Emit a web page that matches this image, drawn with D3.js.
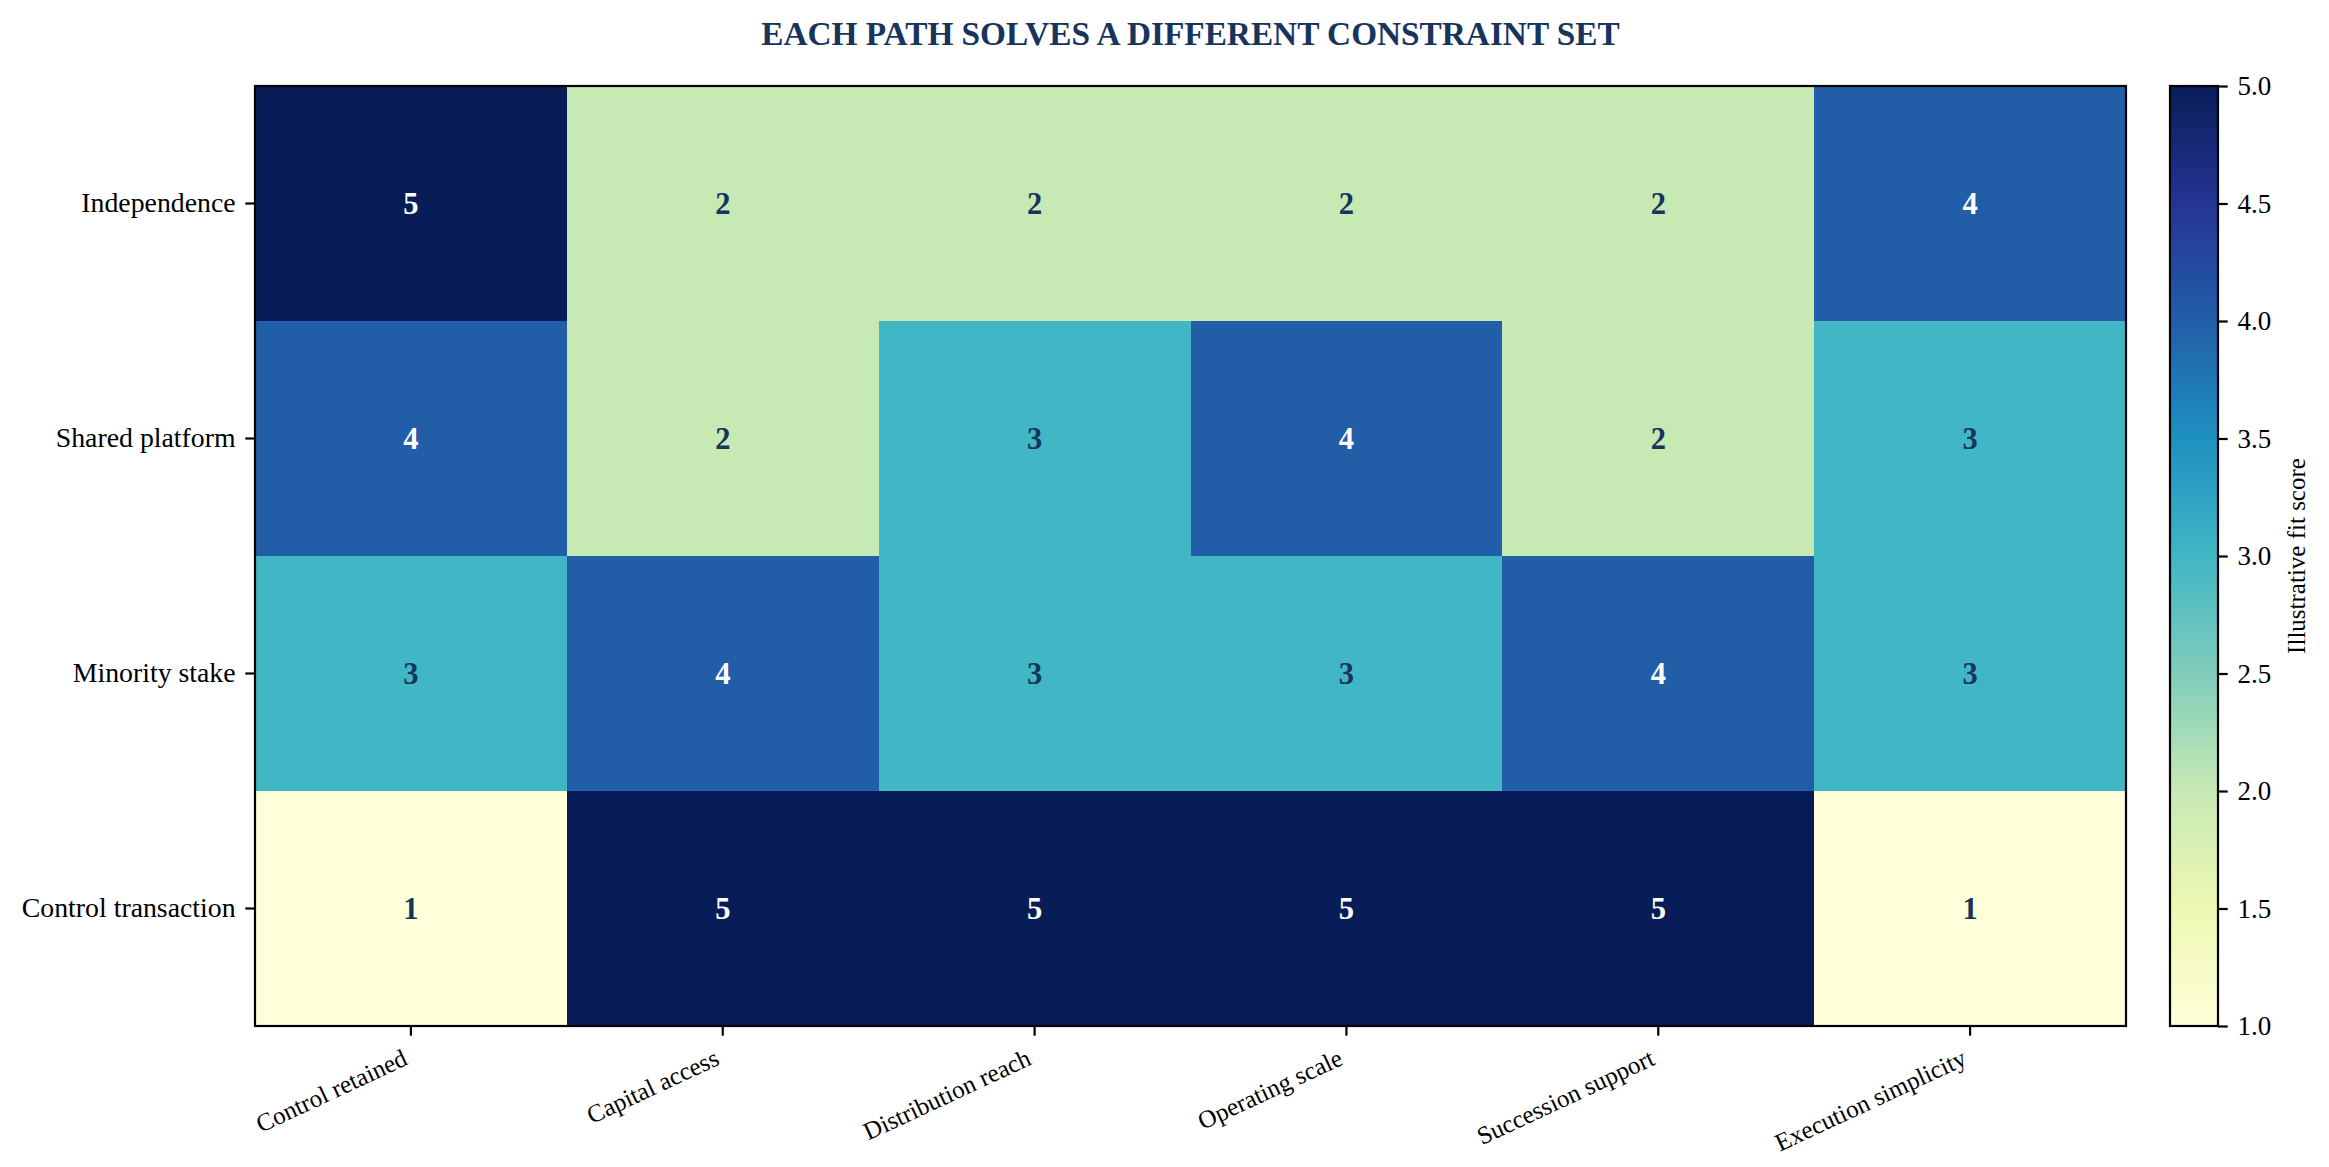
<!DOCTYPE html>
<html>
<head>
<meta charset="utf-8">
<script src="https://cdn.jsdelivr.net/npm/d3@7/dist/d3.min.js"></script>
<style>
  html, body { margin: 0; padding: 0; background: #ffffff; }
  svg { display: block; font-family: "Liberation Serif", "Times New Roman", serif; }
</style>
</head>
<body>
<svg id="heatmap"></svg>
<script>
// Data
const paths = ["Independence", "Shared platform", "Minority stake", "Control transaction"];
const criteria = ["Control retained", "Capital access", "Distribution reach", "Operating scale", "Succession support", "Execution simplicity"];
const independence = [5, 2, 2, 2, 2, 4];
const sharedPlatform = [4, 2, 3, 4, 2, 3];
const minorityStake = [3, 4, 3, 3, 4, 3];
const controlTransaction = [1, 5, 5, 5, 5, 1];
const colorbarTicks = [1.0, 1.5, 2.0, 2.5, 3.0, 3.5, 4.0, 4.5, 5.0];

const rows = [independence, sharedPlatform, minorityStake, controlTransaction];

// matplotlib YlGnBu anchor colours
const ylgnbu = ["#ffffd9", "#edf8b1", "#c7e9b4", "#7fcdbb", "#41b6c4", "#1d91c0", "#225ea8", "#253494", "#081d58"];

const W = 2329, H = 1167;
const margin = { top: 86, left: 255 };
const width = 1871;
const height = 940;
const ink = "#16345c";

const svg = d3.select("#heatmap")
  .attr("width", W)
  .attr("height", H);

const x = d3.scaleBand().domain(criteria).range([0, width]);
const y = d3.scaleBand().domain(paths).range([0, height]);

const vmin = 1, vmax = 5;
const color = d3.scaleLinear()
  .domain(d3.range(ylgnbu.length).map(i => vmin + (vmax - vmin) * i / (ylgnbu.length - 1)))
  .range(ylgnbu)
  .interpolate(d3.interpolateRgb)
  .clamp(true);

const cells = [];
rows.forEach((vals, r) => vals.forEach((v, c) => cells.push({ path: paths[r], crit: criteria[c], value: v })));

const g = svg.append("g")
  .attr("transform", "translate(" + margin.left + "," + margin.top + ")");

g.selectAll(".cell")
  .data(cells)
  .enter()
  .append("rect")
  .attr("class", "cell")
  .attr("x", d => x(d.crit))
  .attr("y", d => y(d.path))
  .attr("width", x.bandwidth() + 1)
  .attr("height", y.bandwidth() + 1)
  .attr("shape-rendering", "crispEdges")
  .attr("fill", d => color(d.value));

g.selectAll(".val")
  .data(cells)
  .enter()
  .append("text")
  .attr("class", "val")
  .attr("x", d => x(d.crit) + x.bandwidth() / 2)
  .attr("y", d => y(d.path) + y.bandwidth() / 2)
  .attr("text-anchor", "middle")
  .attr("dominant-baseline", "central")
  .style("font-size", "30.5px")
  .style("font-weight", "bold")
  .attr("fill", d => d.value >= 4 ? "#ffffff" : ink)
  .text(d => d.value);

// frame
g.append("rect")
  .attr("width", width)
  .attr("height", height)
  .attr("fill", "none")
  .attr("stroke", "#000")
  .attr("stroke-width", 2.2);

// y axis
const yAxis = g.append("g")
  .call(d3.axisLeft(y).tickSize(9.7).tickPadding(9.7));
yAxis.select(".domain").remove();
yAxis.selectAll("line").attr("stroke", "#000").attr("stroke-width", 2.2);
yAxis.selectAll("text")
  .attr("fill", "#000")
  .style("font-family", "Liberation Serif, serif")
  .style("font-size", "27.8px");

// x axis, labels rotated 25 degrees, right aligned to tick
const xAxis = g.append("g")
  .attr("transform", "translate(0," + height + ")")
  .call(d3.axisBottom(x).tickSize(9.7));
xAxis.select(".domain").remove();
xAxis.selectAll("line").attr("stroke", "#000").attr("stroke-width", 2.2);
xAxis.selectAll("text")
  .attr("fill", "#000")
  .style("font-family", "Liberation Serif, serif")
  .style("font-size", "25px")
  .attr("text-anchor", "end")
  .attr("dy", null)
  .attr("y", 0)
  .attr("x", 0)
  .attr("transform", "translate(-2,38) rotate(-25)");

// colorbar
const cbX = 2170, cbW = 48;
const cbScale = d3.scaleLinear().domain([vmin, vmax]).range([margin.top + height, margin.top]);

const defs = svg.append("defs");
const grad = defs.append("linearGradient")
  .attr("id", "cbgrad")
  .attr("x1", 0).attr("y1", 1).attr("x2", 0).attr("y2", 0);
grad.selectAll("stop")
  .data(ylgnbu)
  .enter()
  .append("stop")
  .attr("offset", (d, i) => i / (ylgnbu.length - 1))
  .attr("stop-color", d => d);

svg.append("rect")
  .attr("x", cbX)
  .attr("y", cbScale(vmax))
  .attr("width", cbW)
  .attr("height", cbScale(vmin) - cbScale(vmax))
  .attr("fill", "url(#cbgrad)")
  .attr("stroke", "#000")
  .attr("stroke-width", 2.2);

const cbAxis = svg.append("g")
  .attr("transform", "translate(" + (cbX + cbW) + ",0)")
  .call(d3.axisRight(cbScale).tickValues(colorbarTicks).tickFormat(d3.format(".1f")).tickSize(9.7).tickPadding(9.7));
cbAxis.select(".domain").remove();
cbAxis.selectAll("line").attr("stroke", "#000").attr("stroke-width", 2.2);
cbAxis.selectAll("text")
  .attr("fill", "#000")
  .style("font-family", "Liberation Serif, serif")
  .style("font-size", "27px");

svg.append("text")
  .attr("transform", "translate(2296," + (margin.top + height / 2) + ") rotate(-90)")
  .attr("text-anchor", "middle")
  .attr("dominant-baseline", "central")
  .style("font-size", "25px")
  .attr("fill", "#000")
  .text("Illustrative fit score");

// title
svg.append("text")
  .attr("x", margin.left + width / 2)
  .attr("y", 45)
  .attr("text-anchor", "middle")
  .style("font-size", "33.3px")
  .style("font-weight", "bold")
  .attr("fill", ink)
  .text("EACH PATH SOLVES A DIFFERENT CONSTRAINT SET");
</script>
</body>
</html>
